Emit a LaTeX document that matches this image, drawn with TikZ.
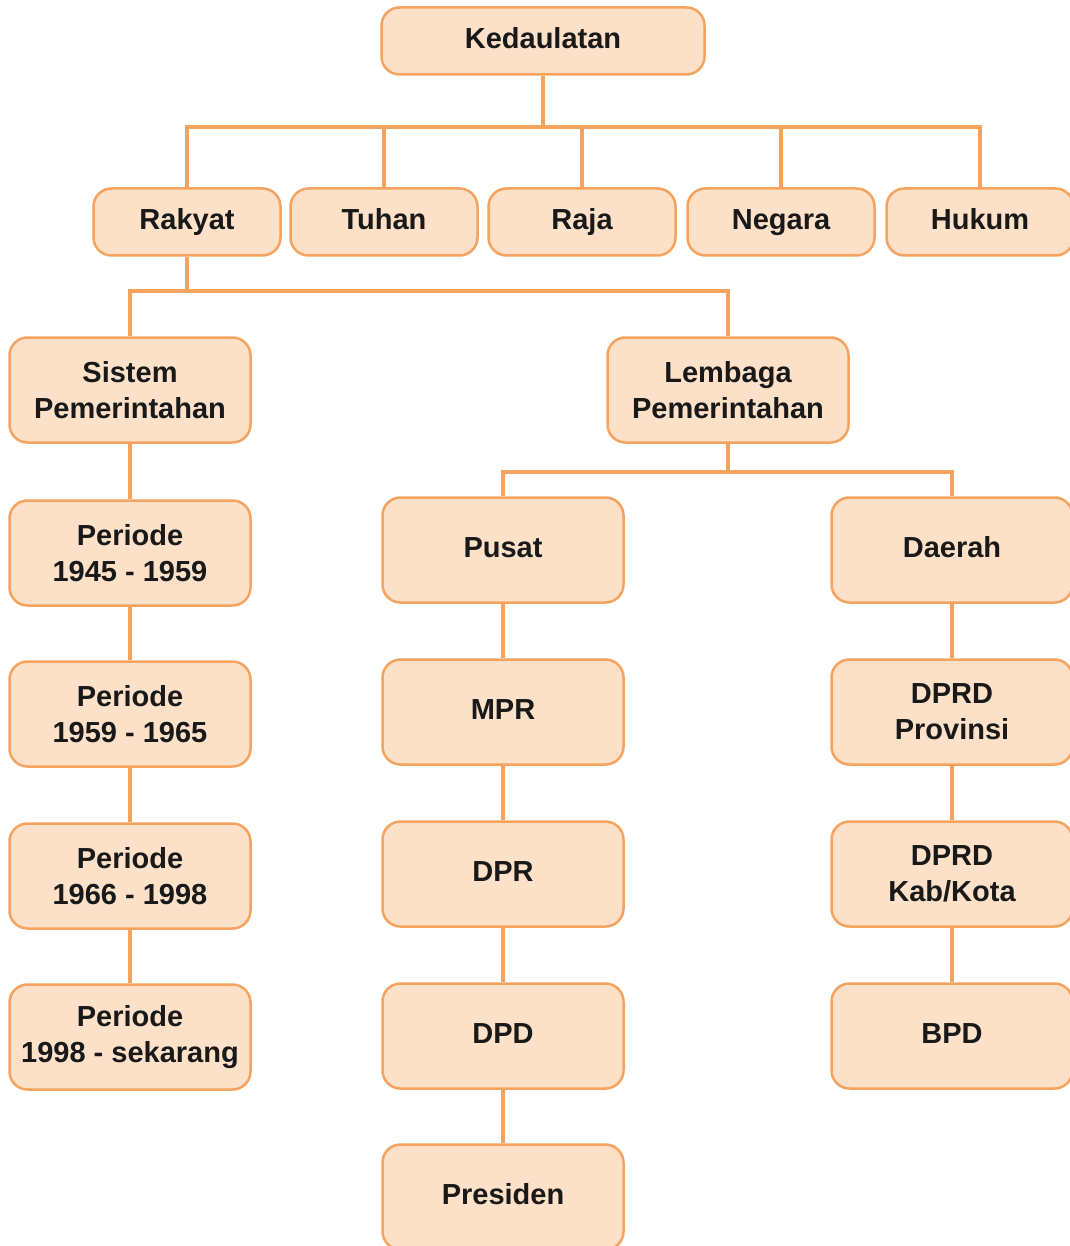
\documentclass[tikz,border=0pt]{standalone}
\usepackage{fontspec}
\setmainfont{Liberation Sans}
\usepackage{xcolor}
\usetikzlibrary{positioning}

\definecolor{boxfill}{HTML}{FCE0C8}
\definecolor{boxline}{HTML}{F5A35E}

\tikzset{
    kotak/.style={draw=boxline, fill=boxfill, line width=2.5pt, rounded corners=18pt,
        minimum width=241pt, minimum height=105pt, align=center,
        font=\fontsize{29}{36}\selectfont\bfseries, text=black!90, inner sep=0pt},
    satu/.style={text height=21pt, text depth=6pt},
    kotakkecil/.style={kotak, satu, minimum width=187pt, minimum height=67pt},
    garis/.style={draw=boxline, line width=4pt}
}

\begin{document}
\begin{tikzpicture}[x=1pt, y=-1pt]
        \useasboundingbox (0,0) rectangle (1069,1246);

        % Puncak
        \node[kotakkecil, minimum width=323pt] (ked) at (543,41) {Kedaulatan};

        % Sumber kedaulatan
        \node[kotakkecil] (rakyat) at (187,222) {Rakyat};
        \node[kotakkecil] (tuhan) at (384,222) {Tuhan};
        \node[kotakkecil] (raja) at (582,222) {Raja};
        \node[kotakkecil] (negara) at (781,222) {Negara};
        \node[kotakkecil] (hukum) at (980,222) {Hukum};

        \coordinate (j1) at (543,127);
        \draw[garis] (ked.south) -- (j1);
        \foreach \c in {rakyat,tuhan,raja,negara,hukum}
            \draw[garis] (j1) -| (\c.north);

        % Cabang rakyat
        \node[kotak] (sistem) at (130,390) {Sistem\\Pemerintahan};
        \node[kotak] (lembaga) at (728,390) {Lembaga\\Pemerintahan};

        \coordinate (j2) at (187,291);
        \draw[garis] (rakyat.south) -- (j2);
        \draw[garis] (j2) -| (sistem.north);
        \draw[garis] (j2) -| (lembaga.north);

        % Periode
        \node[kotak] (p1) at (130,553) {Periode\\1945 - 1959};
        \node[kotak] (p2) at (130,714) {Periode\\1959 - 1965};
        \node[kotak] (p3) at (130,876) {Periode\\1966 - 1998};
        \node[kotak] (p4) at (130,1037) {Periode\\1998 - sekarang};

        \draw[garis] (sistem) -- (p1) -- (p2) -- (p3) -- (p4);

        % Lembaga
        \node[kotak, satu] (pusat) at (503,550) {Pusat};
        \node[kotak, satu] (daerah) at (952,550) {Daerah};

        \coordinate (j3) at (728,472);
        \draw[garis] (lembaga.south) -- (j3);
        \draw[garis] (j3) -| (pusat.north);
        \draw[garis] (j3) -| (daerah.north);

        \node[kotak, satu] (mpr) at (503,712) {MPR};
        \node[kotak, satu] (dpr) at (503,874) {DPR};
        \node[kotak, satu] (dpd) at (503,1036) {DPD};
        \node[kotak, satu] (presiden) at (503,1197) {Presiden};

        \draw[garis] (pusat) -- (mpr) -- (dpr) -- (dpd) -- (presiden);

        \node[kotak] (dprdprov) at (952,712) {DPRD\\Provinsi};
        \node[kotak] (dprdkab) at (952,874) {DPRD\\Kab/Kota};
        \node[kotak, satu] (bpd) at (952,1036) {BPD};

        \draw[garis] (daerah) -- (dprdprov) -- (dprdkab) -- (bpd);
    \end{tikzpicture}
\end{document}
